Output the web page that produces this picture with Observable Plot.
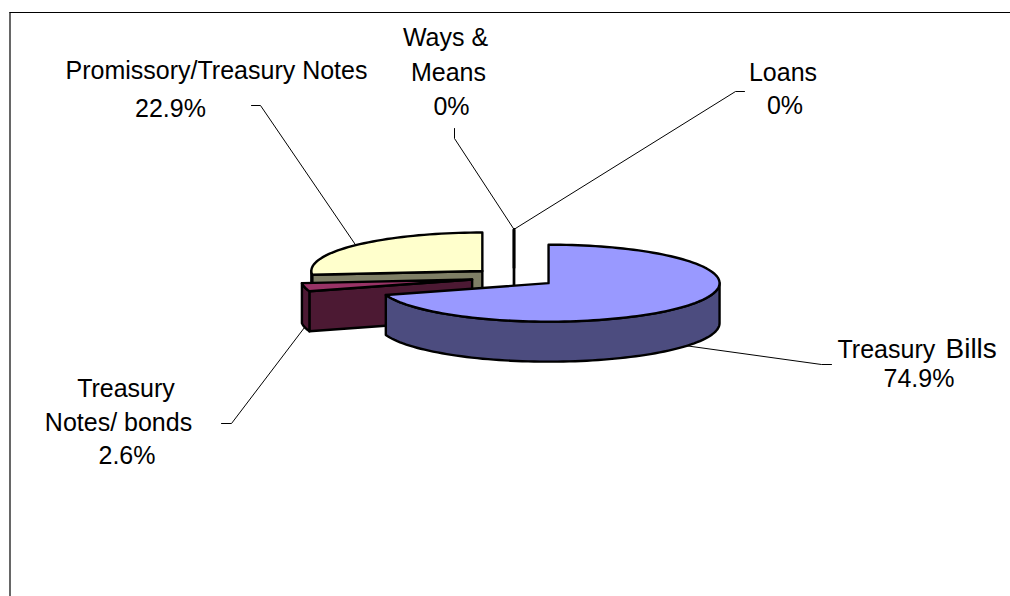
<!DOCTYPE html>
<html>
<head>
<meta charset="utf-8">
<script src="https://cdn.jsdelivr.net/npm/d3@7"></script>
<script src="https://cdn.jsdelivr.net/npm/@observablehq/plot@0.6"></script>
<style>
  html, body { margin: 0; padding: 0; background: #fff; }
  svg { display: block; }
</style>
</head>
<body>
<div id="chart"></div>
<script>
// Composition of domestic debt, in percent
const categories = ["Treasury Bills", "Treasury Notes/ bonds", "Promissory/Treasury Notes", "Ways & Means", "Loans"];
const shares = [74.9, 2.6, 22.9, 0, 0];

const topColors = ["#9999ff", "#993366", "#ffffcc", "#ffffff", "#ffffff"];
const sideColors = ["#4c4c7f", "#4c1933", "#7f7f66", "#000000", "#000000"];

// Pie placement on the page, in pixels
const W = 1010, H = 596;
const centre = {x: 513.5, y: 277};
const radius = {x: 171, y: 38.5};
const depth = 40;
const explode = 0.25;
const fontFamily = "'Liberation Sans', Arial, sans-serif";

// Tilted-view correction: apparent angle of a slice boundary
const rad = Math.PI / 180;
const apparent = (deg) => deg + 16 * Math.sin(deg * rad) - 9 * Math.sin(2 * deg * rad);

const arcs = d3.pie().sort(null).value((d) => d)(shares);

const slices = arcs.map((a, i) => {
  const start = apparent(a.startAngle / rad);
  const end = apparent(a.endAngle / rad);
  const mid = (start + end) / 2;
  const apex = {
    x: centre.x + explode * radius.x * Math.sin(mid * rad),
    y: centre.y - explode * radius.y * Math.cos(mid * rad)
  };
  const rim = (deg, drop = 0) => ({
    x: apex.x + radius.x * Math.sin(deg * rad),
    y: apex.y - radius.y * Math.cos(deg * rad) + drop
  });
  return {i, start, end, mid, apex, rim, empty: shares[i] === 0};
});

// Points along an arc of the rim, from one angle to another
function arc(slice, from, to, drop = 0) {
  const n = Math.max(1, Math.ceil(Math.abs(to - from) / 2));
  return d3.range(n + 1).map((k) => slice.rim(from + (to - from) * k / n, drop));
}

// Closed outlines for one slice, from the hidden side to the top face
function outlines(s) {
  const shapes = [];
  const lowApex = {x: s.apex.x, y: s.apex.y + depth};
  if (s.empty || Math.sin(s.start * rad) < 0) {
    shapes.push({fill: sideColors[s.i], points: [s.apex, s.rim(s.start), s.rim(s.start, depth), lowApex, s.apex]});
  }
  const from = Math.max(s.start, 90), to = Math.min(s.end, 270);
  if (to > from) {
    const top = arc(s, from, to);
    shapes.push({fill: sideColors[s.i], points: [...top, ...arc(s, to, from, depth), top[0]]});
  }
  shapes.push({fill: topColors[s.i], points: [s.apex, ...arc(s, s.start, s.end), s.apex]});
  return shapes;
}

// Leader stubs beside each label; the far end sits on the slice rim
const stubs = [
  [[831, 364], [821, 364]],
  [[221, 423], [231, 423]],
  [[251, 105], [260, 105]],
  [[454, 128], [454, 138]],
  [[744, 91], [735, 91]]
];
const leaders = stubs.map((stub, i) => {
  const s = slices[i];
  const onFront = Math.cos(s.mid * rad) < 0;
  const end = s.rim(s.mid, onFront ? depth : 0);
  return [...stub.map(([x, y]) => ({x, y})), end];
});

// Label lines, placed one by one
const labelLines = [
  {text: "Treasury", x: 837, y: 357, size: 25, anchor: "start"},
  {text: "Bills", x: 945, y: 357, size: 28, anchor: "start"},
  {text: shares[0] + "%", x: 918.5, y: 386, size: 25},
  {text: "Treasury", x: 125.5, y: 396, size: 25},
  {text: "Notes/ bonds", x: 118, y: 430, size: 25},
  {text: shares[1] + "%", x: 126.5, y: 463, size: 25},
  {text: "Promissory/Treasury Notes", x: 216, y: 78, size: 25},
  {text: shares[2] + "%", x: 170, y: 116, size: 25},
  {text: "Ways &", x: 445, y: 45, size: 25},
  {text: "Means", x: 448, y: 80, size: 25},
  {text: shares[3] + "%", x: 451, y: 114, size: 25},
  {text: "Loans", x: 782.5, y: 80, size: 25},
  {text: shares[4] + "%", x: 784.5, y: 113, size: 25}
];

const chart = Plot.plot({
  width: W,
  height: H,
  margin: 0,
  style: {background: "#fff"},
  x: {domain: [0, W], range: [0, W], axis: null},
  y: {domain: [0, H], range: [0, H], axis: null},
  marks: [
    Plot.ruleX([9.5], {y1: 12, y2: H, stroke: "#000", strokeWidth: 1.2}),
    Plot.ruleY([12], {x1: 9.5, x2: W, stroke: "#000", strokeWidth: 1.2}),
    ...leaders.map((points) =>
      Plot.line(points, {x: "x", y: "y", stroke: "#000", strokeWidth: 1, curve: "linear"})
    ),
    ...[...slices].reverse().flatMap(outlines).map((shape) =>
      Plot.line(shape.points, {
        x: "x",
        y: "y",
        fill: shape.fill,
        stroke: "#000",
        strokeWidth: 2.4,
        strokeLinejoin: "round",
        curve: "linear"
      })
    ),
    ...labelLines.map((line) =>
      Plot.text([line], {
        x: "x",
        y: "y",
        text: "text",
        fontSize: line.size,
        fontFamily,
        fill: "#000",
        textAnchor: line.anchor || "middle",
        lineAnchor: "bottom"
      })
    )
  ]
});

document.getElementById("chart").append(chart);
</script>
</body>
</html>
